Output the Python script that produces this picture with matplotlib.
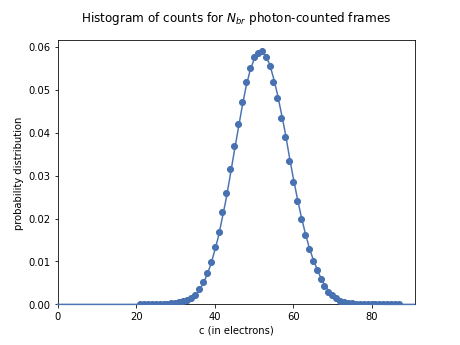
import numpy as np
import matplotlib
matplotlib.use("Agg")
import matplotlib.pyplot as plt

# Histogram points (c in electrons, probability)
hist_c = list(range(21, 88))
hist_p = [
    0.00001, 0.00001, 0.00002, 0.00003, 0.00004, 0.00006, 0.0001, 0.00015, 0.00022, 0.00032,  # 21-30
    0.00048, 0.0007, 0.001, 0.0015, 0.0023, 0.0035, 0.0052, 0.0072, 0.0099, 0.0133,            # 31-40
    0.0168, 0.0214, 0.0259, 0.0315, 0.0369, 0.0419, 0.0472, 0.0518, 0.0551, 0.0575,            # 41-50
    0.0585, 0.0589, 0.0576, 0.0555, 0.0519, 0.0481, 0.0434, 0.0389, 0.0333, 0.0285,            # 51-60
    0.0240, 0.0198, 0.0161, 0.0128, 0.0101, 0.0079, 0.0058, 0.0042, 0.0030, 0.0021,            # 61-70
    0.0014, 0.0009, 0.0006, 0.0004, 0.00025, 0.00016, 0.0001, 0.00006, 0.00004, 0.00003,       # 71-80
    0.00002, 0.00001, 0.00001, 0.00001, 0.00001, 0.00001, 0.00001,                             # 81-87
]

# Model curve (c in electrons, probability)
curve_c = list(range(0, 92))
curve_p = [0.0] * 20 + [
    0.00001, 0.00001, 0.00002, 0.00003, 0.00004, 0.00006, 0.00009, 0.00012, 0.00016, 0.0002,  # 20-29
    0.00025, 0.00044, 0.00063, 0.0009, 0.0014, 0.0021, 0.0031, 0.0047, 0.0067, 0.0092,        # 30-39
    0.0124, 0.0159, 0.0203, 0.0248, 0.0301, 0.0355, 0.0407, 0.0459, 0.0506, 0.0543,           # 40-49
    0.0569, 0.0583, 0.0588, 0.0579, 0.0560, 0.0528, 0.0490, 0.0446, 0.0400, 0.0347,           # 50-59
    0.0297, 0.0251, 0.0208, 0.0170, 0.0136, 0.0108, 0.0085, 0.0063, 0.0046, 0.0033,           # 60-69
    0.0023, 0.0016, 0.0011, 0.0007, 0.00045, 0.0003, 0.00018, 0.00011, 0.00007, 0.00004,      # 70-79
    0.00003, 0.00002, 0.00001, 0.00001, 0.0, 0.0, 0.0, 0.0, 0.0, 0.0, 0.0, 0.0,               # 80-91
]

fig, ax = plt.subplots(figsize=(6.4, 4.8), dpi=72)
fig.subplots_adjust(left=0.125, right=0.9, bottom=0.1175, top=0.8822)
ax.plot(hist_c, hist_p, 'o', color='#4670b0', markersize=6, zorder=3)
ax.plot(curve_c, curve_p, '-', color='#4a74b4', linewidth=1.5, zorder=3, clip_on=False)
ax.set_xlim(0, curve_c[-1])
ax.set_ylim(0, 0.06154)
ax.set_title("Histogram of counts for $N_{br}$ photon-counted frames", pad=19)
ax.set_xlabel("c (in electrons)")
ax.set_ylabel("probability distribution")
fig.savefig("out.png", dpi=72)
